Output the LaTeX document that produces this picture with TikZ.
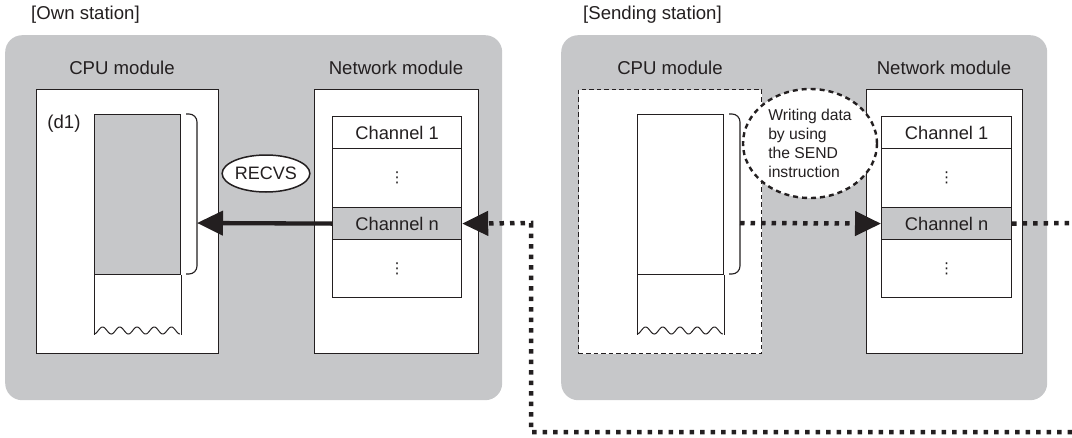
\documentclass[tikz,border=0pt]{standalone}
\usepackage{fontspec}
\setmainfont{Liberation Sans}
\newfontfamily\symfont{DejaVu Sans}
\usetikzlibrary{arrows.meta,shapes.geometric}
\definecolor{bggrey}{RGB}{198,199,201}
\definecolor{cellgrey}{RGB}{198,199,201}
\definecolor{ink}{RGB}{35,31,32}
\tikzset{
  station/.style={fill=bggrey, draw=none, rounded corners=17pt, anchor=north west, inner sep=0},
  modbox/.style={draw=ink, fill=white, line width=1.2pt, anchor=north west, inner sep=0},
  cell/.style={draw=ink, fill=white, line width=1.2pt, anchor=north west, inner sep=0,
    minimum width=#1, font=\fontsize{18.3}{22}\selectfont, text=ink},
  lbl/.style={font=\fontsize{18.6}{22}\selectfont, text=ink, inner sep=0},
  vdotsnode/.style={font=\symfont\fontsize{15}{15}\selectfont, text=ink, inner sep=0},
  dotline/.style={draw=ink, line width=4.5pt, dash pattern=on 4.5pt off 6pt},
  bigtip/.style={-{Triangle[length=26pt,width=24pt]}},
  thickline/.style={draw=ink, line width=4.3pt},
  bracketline/.style={draw=ink, line width=1.1pt, rounded corners=8pt},
  thinline/.style={draw=ink, line width=1pt},
}
\begin{document}
\begin{tikzpicture}[x=1pt,y=-1pt]
\useasboundingbox (0,0) rectangle (1072,437);

% ---------------- Own station ----------------
\node[lbl, anchor=west] (ownlbl) at (31,15) {[Own station]};
\node[station, minimum width=497pt, minimum height=365pt] (ownst) at (5,35) {};
\node[lbl] (cpuAlbl) at (122,68) {CPU module};
\node[lbl] (netAlbl) at (396,68) {Network module};
\node[modbox, minimum width=182pt, minimum height=264pt] (cpuA) at (36,89) {};
\node[lbl] (d1) at (64,124) {(d1)};
\node[modbox, fill=cellgrey, minimum width=86pt, minimum height=160pt] (memA) at (94,114) {};
\draw[thinline] (memA.south west) -- ++(0,60);
\draw[thinline] (memA.south east) -- ++(0,60);
\draw[thinline] plot[domain=0:1, samples=150, smooth] ({94+86*\x},{334-3.5*(1-cos(360*5*\x))});
\draw[bracketline] (186,114) -- (197,114) -- (197,274) -- (186,274);
\coordinate (brA) at (197,223);

\node[modbox, minimum width=164pt, minimum height=264pt] (netA) at (314,89) {};
\node[cell=129pt, minimum height=32pt] (ch1A) at (332,116) {Channel 1};
\node[cell=129pt, minimum height=59pt] (d1A) at (332,148) {};
\node[cell=129pt, minimum height=32pt, fill=cellgrey] (chnA) at (332,207) {Channel n};
\node[cell=129pt, minimum height=58pt] (d2A) at (332,239) {};
\node[vdotsnode] at (d1A.center) {⋮};
\node[vdotsnode] at (d2A.center) {⋮};

\node[ellipse, draw=ink, fill=white, line width=1.5pt, minimum width=79pt, minimum height=37pt,
  inner sep=0, font=\fontsize{18}{21}\selectfont, text=ink] (recvs) at (266,173.5) {RECVS};

\draw[thickline, bigtip] (chnA.west) -- (brA);

% ---------------- Sending station ----------------
\node[lbl, anchor=west] (sendlbl) at (583,15) {[Sending station]};
\node[station, minimum width=486pt, minimum height=365pt] (sendst) at (561,35) {};
\node[lbl] (cpuBlbl) at (670,68) {CPU module};
\node[lbl] (netBlbl) at (944,68) {Network module};
\node[modbox, dash pattern=on 4.5pt off 3pt, minimum width=183pt, minimum height=264pt] (cpuB) at (578,89) {};
\node[modbox, minimum width=86pt, minimum height=160pt] (memB) at (637,114) {};
\draw[thinline] (memB.south west) -- ++(0,60);
\draw[thinline] (memB.south east) -- ++(0,60);
\draw[thinline] plot[domain=0:1, samples=150, smooth] ({637+86*\x},{334-3.5*(1-cos(360*5*\x))});
\draw[bracketline] (729,114) -- (740,114) -- (740,274) -- (729,274);
\coordinate (brB) at (740,223);

\node[modbox, minimum width=156pt, minimum height=264pt] (netB) at (866,89) {};
\node[cell=130pt, minimum height=32pt] (ch1B) at (881,116) {Channel 1};
\node[cell=130pt, minimum height=59pt] (d1B) at (881,148) {};
\node[cell=130pt, minimum height=32pt, fill=cellgrey] (chnB) at (881,207) {Channel n};
\node[cell=130pt, minimum height=58pt] (d2B) at (881,239) {};
\node[vdotsnode] at (d1B.center) {⋮};
\node[vdotsnode] at (d2B.center) {⋮};

\node[ellipse, draw=ink, fill=white, line width=2.4pt, dash pattern=on 5pt off 4pt,
  minimum width=134pt, minimum height=109pt, inner sep=0, align=left,
  font=\fontsize{15.7}{19}\selectfont, text=ink] (send) at (810,143.5)
  {Writing data\\by using\\the SEND\\instruction};

\draw[dotline, bigtip] (brB) -- (chnB.west);
\coordinate (rightEnd) at (1072,223);
\draw[dotline] (chnB.east) -- (rightEnd);

% ---------------- link between stations ----------------
\coordinate (botR) at (1072,432);
\coordinate (botL) at (531,432);
\coordinate (upL) at (531,223);
\draw[dotline, bigtip] (botR) -- (botL) -- (upL) -- (chnA.east);
\end{tikzpicture}
\end{document}
